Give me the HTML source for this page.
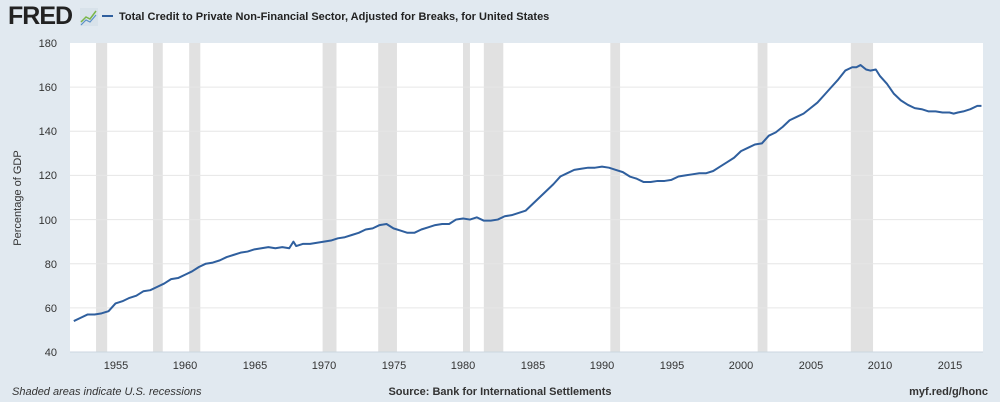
<!DOCTYPE html><html><head><style>body{margin:0;background:#e1e9f0;font-family:"Liberation Sans",sans-serif}</style></head><body>
<svg width="1000" height="402" xmlns="http://www.w3.org/2000/svg" style="display:block">
<rect width="1000" height="402" fill="#e1e9f0"/>
<text x="8" y="24" font-size="25" font-weight="bold" fill="#222" letter-spacing="-1">FRED</text>
<rect x="80" y="8" width="18" height="18" fill="#d8e2ea"/>
<polyline points="81,22 86,17 90,19 96,11" fill="none" stroke="#7ab648" stroke-width="1.5"/>
<polyline points="81,25 86,20 90,22 96,15" fill="none" stroke="#5a8fc8" stroke-width="1.2"/>
<line x1="102" y1="16" x2="113" y2="16" stroke="#2f5f9e" stroke-width="2"/>
<text x="119" y="20" font-size="11" font-weight="bold" fill="#222">Total Credit to Private Non-Financial Sector, Adjusted for Breaks, for United States</text>
<rect x="70" y="43" width="913" height="309" fill="#fff"/>
<g transform="matrix(13.9 0 0 -2.207 -27059 440.26)" fill="#e1e1e1">
<rect x="1953.6" y="40" width="0.8" height="140"/>
<rect x="1957.7" y="40" width="0.7" height="140"/>
<rect x="1960.3" y="40" width="0.8" height="140"/>
<rect x="1969.9" y="40" width="1.0" height="140"/>
<rect x="1973.9" y="40" width="1.35" height="140"/>
<rect x="1980.0" y="40" width="0.5" height="140"/>
<rect x="1981.5" y="40" width="1.4" height="140"/>
<rect x="1990.6" y="40" width="0.7" height="140"/>
<rect x="2001.2" y="40" width="0.7" height="140"/>
<rect x="2007.9" y="40" width="1.6" height="140"/>
</g>
<g stroke="#e6e6e6" stroke-width="1">
<line x1="70" x2="983" y1="87.1" y2="87.1"/><line x1="70" x2="983" y1="131.3" y2="131.3"/>
<line x1="70" x2="983" y1="175.4" y2="175.4"/><line x1="70" x2="983" y1="219.6" y2="219.6"/>
<line x1="70" x2="983" y1="263.7" y2="263.7"/><line x1="70" x2="983" y1="307.9" y2="307.9"/>
</g>
<line x1="70" x2="983" y1="352" y2="352" stroke="#ccd6e0"/>
<g font-size="11" fill="#333" text-anchor="end">
<text x="57" y="47">180</text><text x="57" y="91">160</text><text x="57" y="135">140</text>
<text x="57" y="179">120</text><text x="57" y="224">100</text><text x="57" y="268">80</text>
<text x="57" y="312">60</text><text x="57" y="356">40</text></g>
<g font-size="11" fill="#333" text-anchor="middle">
<text x="116" y="369">1955</text><text x="185" y="369">1960</text><text x="255" y="369">1965</text>
<text x="324" y="369">1970</text><text x="394" y="369">1975</text><text x="463" y="369">1980</text>
<text x="533" y="369">1985</text><text x="602" y="369">1990</text><text x="672" y="369">1995</text>
<text x="741" y="369">2000</text><text x="811" y="369">2005</text><text x="880" y="369">2010</text>
<text x="950" y="369">2015</text></g>
<text transform="translate(21,198) rotate(-90)" font-size="11" fill="#333" text-anchor="middle">Percentage of GDP</text>
<g transform="matrix(13.9 0 0 -2.207 -27059 440.26)">
<polyline vector-effect="non-scaling-stroke" fill="none" stroke="#2f5f9e" stroke-width="2" stroke-linejoin="round" points="1952,54 1952.5,55.5 1953,57 1953.5,57 1954,57.5 1954.5,58.5 1955,62 1955.5,63 1956,64.5 1956.5,65.5 1957,67.5 1957.5,68 1958,69.5 1958.5,71 1959,73 1959.5,73.5 1960,75 1960.5,76.5 1961,78.5 1961.5,80 1962,80.5 1962.5,81.5 1963,83 1963.5,84 1964,85 1964.5,85.5 1965,86.5 1965.5,87 1966,87.5 1966.5,87 1967,87.5 1967.5,87 1967.8,90 1968,88 1968.5,89 1969,89 1969.5,89.5 1970,90 1970.5,90.5 1971,91.5 1971.5,92 1972,93 1972.5,94 1973,95.5 1973.5,96 1974,97.5 1974.5,98 1975,96 1975.5,95 1976,94 1976.5,94 1977,95.5 1977.5,96.5 1978,97.5 1978.5,98 1979,98 1979.5,100 1980,100.5 1980.5,100 1981,101 1981.5,99.5 1982,99.5 1982.5,100 1983,101.5 1983.5,102 1984,103 1984.5,104 1985,107 1985.5,110 1986,113 1986.5,116 1987,119.5 1987.5,121 1988,122.5 1988.5,123 1989,123.5 1989.5,123.5 1990,124 1990.5,123.5 1991,122.5 1991.5,121.5 1992,119.5 1992.5,118.5 1993,117 1993.5,117 1994,117.5 1994.5,117.5 1995,118 1995.5,119.5 1996,120 1996.5,120.5 1997,121 1997.5,121 1998,122 1998.5,124 1999,126 1999.5,128 2000,131 2000.5,132.5 2001,134 2001.5,134.5 2002,138 2002.5,139.5 2003,142 2003.5,145 2004,146.5 2004.5,148 2005,150.5 2005.5,153 2006,156.5 2006.5,160 2007,163.5 2007.5,167.5 2008,169 2008.3,169 2008.6,170 2009,168 2009.3,167.5 2009.7,168 2010,165 2010.5,161.5 2011,157 2011.5,154 2012,152 2012.5,150.5 2013,150 2013.5,149 2014,149 2014.5,148.5 2015,148.5 2015.3,148 2015.6,148.5 2016,149 2016.5,150 2017,151.5 2017.3,151.5"/>
</g>
<text x="12" y="395" font-size="11" font-style="italic" fill="#333">Shaded areas indicate U.S. recessions</text>
<text x="500" y="395" font-size="11" font-weight="bold" fill="#333" text-anchor="middle">Source: Bank for International Settlements</text>
<text x="988" y="395" font-size="11" font-weight="bold" fill="#333" text-anchor="end">myf.red/g/honc</text>
</svg></body></html>
